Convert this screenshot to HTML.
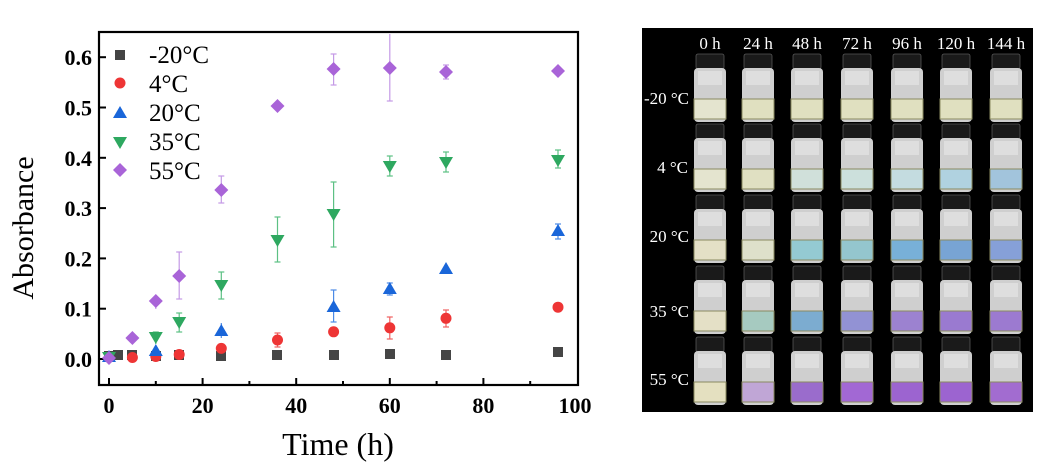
<!DOCTYPE html>
<html><head><meta charset="utf-8"><style>
html,body{margin:0;padding:0;background:#fff;}
svg{display:block;font-family:"Liberation Serif",serif;}
</style></head><body>
<svg width="1063" height="472" viewBox="0 0 1063 472" xmlns="http://www.w3.org/2000/svg">
<rect width="1063" height="472" fill="#fff"/>
<rect x="99" y="32" width="479" height="353" fill="none" stroke="#000" stroke-width="2.2"/>
<g stroke="#000" stroke-width="2">
<line x1="109" y1="385" x2="109" y2="378"/><line x1="202.6" y1="385" x2="202.6" y2="378"/><line x1="296.2" y1="385" x2="296.2" y2="378"/><line x1="389.8" y1="385" x2="389.8" y2="378"/><line x1="483.4" y1="385" x2="483.4" y2="378"/>
<line x1="155.8" y1="385" x2="155.8" y2="381"/><line x1="249.4" y1="385" x2="249.4" y2="381"/><line x1="343" y1="385" x2="343" y2="381"/><line x1="436.6" y1="385" x2="436.6" y2="381"/><line x1="530.2" y1="385" x2="530.2" y2="381"/>
<line x1="99" y1="359" x2="106" y2="359"/><line x1="99" y1="308.7" x2="106" y2="308.7"/><line x1="99" y1="258.4" x2="106" y2="258.4"/><line x1="99" y1="208.1" x2="106" y2="208.1"/><line x1="99" y1="157.8" x2="106" y2="157.8"/><line x1="99" y1="107.5" x2="106" y2="107.5"/><line x1="99" y1="57.2" x2="106" y2="57.2"/>
</g>
<g font-weight="bold" font-size="22" text-anchor="middle">
<text x="109" y="413">0</text><text x="202.6" y="413">20</text><text x="296.2" y="413">40</text><text x="389.8" y="413">60</text><text x="483.4" y="413">80</text><text x="575" y="413">100</text>
</g>
<g font-weight="bold" font-size="22" text-anchor="end">
<text x="92" y="367">0.0</text><text x="92" y="316.7">0.1</text><text x="92" y="266.4">0.2</text><text x="92" y="216.1">0.3</text><text x="92" y="165.8">0.4</text><text x="92" y="115.5">0.5</text><text x="92" y="65.2">0.6</text>
</g>
<text x="338" y="455" font-size="32" text-anchor="middle">Time (h)</text>
<text transform="translate(33,228) rotate(-90)" font-size="30" text-anchor="middle">Absorbance</text>
<rect x="115" y="50" width="10" height="10" fill="#444"/>
<circle cx="120" cy="83" r="5.5" fill="#ee3535"/>
<polygon points="120,106 127,118 113,118" fill="#1a66d9"/>
<polygon points="113,137 127,137 120,149" fill="#2ea860"/>
<polygon points="120,163 127,170 120,177 113,170" fill="#a964d8"/>
<g font-size="25"><text x="149" y="63">-20°C</text><text x="149" y="92">4°C</text><text x="149" y="121">20°C</text><text x="149" y="150">35°C</text><text x="149" y="179">55°C</text></g>
<g stroke="#c49ae6" stroke-width="1.2">
<line x1="155.8" y1="299" x2="155.8" y2="309"/><line x1="152.8" y1="299" x2="158.8" y2="299"/>
<line x1="179.2" y1="252" x2="179.2" y2="299"/><line x1="176.2" y1="252" x2="182.2" y2="252"/><line x1="176.2" y1="299" x2="182.2" y2="299"/>
<line x1="221.3" y1="176" x2="221.3" y2="203"/><line x1="218.3" y1="176" x2="224.3" y2="176"/><line x1="218.3" y1="203" x2="224.3" y2="203"/>
<line x1="333.6" y1="54" x2="333.6" y2="85"/><line x1="330.6" y1="54" x2="336.6" y2="54"/><line x1="330.6" y1="85" x2="336.6" y2="85"/>
<line x1="389.8" y1="34" x2="389.8" y2="101"/><line x1="386.8" y1="101" x2="392.8" y2="101"/>
<line x1="446" y1="65" x2="446" y2="79"/><line x1="443" y1="65" x2="449" y2="65"/><line x1="443" y1="79" x2="449" y2="79"/>
</g>
<g stroke="#5cc084" stroke-width="1.2">
<line x1="155.8" y1="332" x2="155.8" y2="344"/><line x1="152.8" y1="332" x2="158.8" y2="332"/>
<line x1="179.2" y1="313" x2="179.2" y2="332"/><line x1="176.2" y1="313" x2="182.2" y2="313"/><line x1="176.2" y1="332" x2="182.2" y2="332"/>
<line x1="221.3" y1="272" x2="221.3" y2="299"/><line x1="218.3" y1="272" x2="224.3" y2="272"/><line x1="218.3" y1="299" x2="224.3" y2="299"/>
<line x1="277.5" y1="217" x2="277.5" y2="262"/><line x1="274.5" y1="217" x2="280.5" y2="217"/><line x1="274.5" y1="262" x2="280.5" y2="262"/>
<line x1="333.6" y1="182" x2="333.6" y2="247"/><line x1="330.6" y1="182" x2="336.6" y2="182"/><line x1="330.6" y1="247" x2="336.6" y2="247"/>
<line x1="389.8" y1="156" x2="389.8" y2="176"/><line x1="386.8" y1="156" x2="392.8" y2="156"/><line x1="386.8" y1="176" x2="392.8" y2="176"/>
<line x1="446" y1="152" x2="446" y2="172"/><line x1="443" y1="152" x2="449" y2="152"/><line x1="443" y1="172" x2="449" y2="172"/>
<line x1="558" y1="150" x2="558" y2="168"/><line x1="555" y1="150" x2="561" y2="150"/><line x1="555" y1="168" x2="561" y2="168"/>
</g>
<g stroke="#4c8ae6" stroke-width="1.2">
<line x1="221.3" y1="323" x2="221.3" y2="338"/>
<line x1="333.6" y1="290" x2="333.6" y2="322"/><line x1="330.6" y1="290" x2="336.6" y2="290"/><line x1="330.6" y1="322" x2="336.6" y2="322"/>
<line x1="389.8" y1="283" x2="389.8" y2="295"/><line x1="386.8" y1="283" x2="392.8" y2="283"/><line x1="386.8" y1="295" x2="392.8" y2="295"/>
<line x1="446" y1="264" x2="446" y2="274"/><line x1="558" y1="224" x2="558" y2="239"/><line x1="555" y1="224" x2="561" y2="224"/><line x1="555" y1="239" x2="561" y2="239"/>
</g>
<g stroke="#f06060" stroke-width="1.2">
<line x1="277.5" y1="333" x2="277.5" y2="347"/><line x1="274.5" y1="333" x2="280.5" y2="333"/><line x1="274.5" y1="347" x2="280.5" y2="347"/>
<line x1="389.8" y1="317" x2="389.8" y2="339"/><line x1="386.8" y1="317" x2="392.8" y2="317"/><line x1="386.8" y1="339" x2="392.8" y2="339"/>
<line x1="446" y1="310" x2="446" y2="327"/><line x1="443" y1="310" x2="449" y2="310"/><line x1="443" y1="327" x2="449" y2="327"/>
</g>
<g fill="#454545">
<rect x="104" y="351" width="10" height="10"/><rect x="113" y="350" width="10" height="10"/><rect x="127" y="350" width="10" height="10"/><rect x="151" y="351" width="10" height="10"/><rect x="174" y="350" width="10" height="10"/><rect x="216" y="351" width="10" height="10"/><rect x="272" y="350" width="10" height="10"/><rect x="329" y="350" width="10" height="10"/><rect x="385" y="349" width="10" height="10"/><rect x="441" y="350" width="10" height="10"/><rect x="553" y="347" width="10" height="10"/>
</g>
<g fill="#ee3535">
<circle cx="132.4" cy="357.5" r="5.5"/><circle cx="155.8" cy="356.5" r="5.5"/><circle cx="179.2" cy="354.5" r="5.5"/><circle cx="221.3" cy="348.4" r="5.5"/><circle cx="277.5" cy="340" r="5.5"/><circle cx="333.6" cy="331.8" r="5.5"/><circle cx="389.8" cy="327.8" r="5.5"/><circle cx="446" cy="318.3" r="5.5"/><circle cx="558" cy="307.2" r="5.5"/>
</g>
<g fill="#1a66d9">
<polygon points="109,350 116,362 102,362"/><polygon points="155.8,344 162.8,356 148.8,356"/><polygon points="221.3,324 228.3,336 214.3,336"/><polygon points="333.6,300 340.6,312 326.6,312"/><polygon points="389.8,282 396.8,294 382.8,294"/><polygon points="446,262 453,274 439,274"/><polygon points="558,224 565,236 551,236"/>
</g>
<g fill="#2ea860">
<polygon points="102,352 116,352 109,364"/><polygon points="148.8,332 162.8,332 155.8,344"/><polygon points="172.2,317 186.2,317 179.2,329"/><polygon points="214.3,280 228.3,280 221.3,292"/><polygon points="270.5,235 284.5,235 277.5,247"/><polygon points="326.6,209 340.6,209 333.6,221"/><polygon points="382.8,161 396.8,161 389.8,173"/><polygon points="439,157 453,157 446,169"/><polygon points="551,155 565,155 558,167"/>
</g>
<g fill="#a964d8">
<polygon points="109,351 116,358 109,365 102,358"/><polygon points="132.4,331 139.4,338 132.4,345 125.4,338"/><polygon points="155.8,294 162.8,301 155.8,308 148.8,301"/><polygon points="179.2,269 186.2,276 179.2,283 172.2,276"/><polygon points="221.3,183 228.3,190 221.3,197 214.3,190"/><polygon points="277.5,99 284.5,106 277.5,113 270.5,106"/><polygon points="333.6,62 340.6,69 333.6,76 326.6,69"/><polygon points="389.8,61 396.8,68 389.8,75 382.8,68"/><polygon points="446,65 453,72 446,79 439,72"/><polygon points="558,64 565,71 558,78 551,71"/>
</g>
<rect x="642" y="28" width="391" height="384" fill="#000"/>
<g fill="#fff" font-size="17" text-anchor="middle">
<text x="710" y="49">0 h</text><text x="758" y="49">24 h</text><text x="807" y="49">48 h</text><text x="857" y="49">72 h</text><text x="907" y="49">96 h</text><text x="956" y="49">120 h</text><text x="1006" y="49">144 h</text>
</g>
<g fill="#fff" font-size="17" text-anchor="end">
<text x="689" y="104">-20 °C</text><text x="688" y="173">4 °C</text><text x="689" y="242">20 °C</text><text x="689" y="317">35 °C</text><text x="689" y="385">55 °C</text>
</g>
<defs>
<g id="v"><rect x="-14" y="0" width="28" height="15" rx="2" fill="#1a1a1a" stroke="#555" stroke-width="0.8"/><rect x="-16" y="14" width="32" height="54" rx="4" fill="#cfcfcf"/><rect x="-12" y="17" width="24" height="14" fill="#dedede"/></g>
</defs>
<g>
<use href="#v" x="710" y="54"/><use href="#v" x="758" y="54"/><use href="#v" x="807" y="54"/><use href="#v" x="857" y="54"/><use href="#v" x="907" y="54"/><use href="#v" x="956" y="54"/><use href="#v" x="1006" y="54"/>
<use href="#v" x="710" y="124"/><use href="#v" x="758" y="124"/><use href="#v" x="807" y="124"/><use href="#v" x="857" y="124"/><use href="#v" x="907" y="124"/><use href="#v" x="956" y="124"/><use href="#v" x="1006" y="124"/>
<use href="#v" x="710" y="195"/><use href="#v" x="758" y="195"/><use href="#v" x="807" y="195"/><use href="#v" x="857" y="195"/><use href="#v" x="907" y="195"/><use href="#v" x="956" y="195"/><use href="#v" x="1006" y="195"/>
<use href="#v" x="710" y="266"/><use href="#v" x="758" y="266"/><use href="#v" x="807" y="266"/><use href="#v" x="857" y="266"/><use href="#v" x="907" y="266"/><use href="#v" x="956" y="266"/><use href="#v" x="1006" y="266"/>
<use href="#v" x="710" y="337"/><use href="#v" x="758" y="337"/><use href="#v" x="807" y="337"/><use href="#v" x="857" y="337"/><use href="#v" x="907" y="337"/><use href="#v" x="956" y="337"/><use href="#v" x="1006" y="337"/>
</g>
<g stroke="#8a8a60" stroke-width="1">
<rect x="694" y="99" width="32" height="20" fill="#e4e4cf"/><rect x="742" y="99" width="32" height="20" fill="#e0e0c0"/><rect x="791" y="99" width="32" height="20" fill="#e0e0c0"/><rect x="841" y="99" width="32" height="20" fill="#e0e0c0"/><rect x="891" y="99" width="32" height="20" fill="#e0e0c0"/><rect x="940" y="99" width="32" height="20" fill="#e0e0c0"/><rect x="990" y="99" width="32" height="20" fill="#e0e0c0"/>
<rect x="694" y="169" width="32" height="20" fill="#e4e4cf"/><rect x="742" y="169" width="32" height="20" fill="#e0e0c2"/><rect x="791" y="169" width="32" height="20" fill="#d0e0da"/><rect x="841" y="169" width="32" height="20" fill="#cce0dc"/><rect x="891" y="169" width="32" height="20" fill="#c4dce0"/><rect x="940" y="169" width="32" height="20" fill="#b0d2e0"/><rect x="990" y="169" width="32" height="20" fill="#a2c4dc"/>
<rect x="694" y="240" width="32" height="20" fill="#e4e0c6"/><rect x="742" y="240" width="32" height="20" fill="#dee0ca"/><rect x="791" y="240" width="32" height="20" fill="#94cad2"/><rect x="841" y="240" width="32" height="20" fill="#94c6ce"/><rect x="891" y="240" width="32" height="20" fill="#78b0d8"/><rect x="940" y="240" width="32" height="20" fill="#78a4d4"/><rect x="990" y="240" width="32" height="20" fill="#86a0d8"/>
<rect x="694" y="311" width="32" height="20" fill="#e4e0c6"/><rect x="742" y="311" width="32" height="20" fill="#a6cac0"/><rect x="791" y="311" width="32" height="20" fill="#7cacd0"/><rect x="841" y="311" width="32" height="20" fill="#9292d4"/><rect x="891" y="311" width="32" height="20" fill="#9c82d0"/><rect x="940" y="311" width="32" height="20" fill="#9a7ad0"/><rect x="990" y="311" width="32" height="20" fill="#9c7ad0"/>
<rect x="694" y="382" width="32" height="20" fill="#e4e0c0"/><rect x="742" y="382" width="32" height="20" fill="#c0a6d6"/><rect x="791" y="382" width="32" height="20" fill="#9a6ccc"/><rect x="841" y="382" width="32" height="20" fill="#a268d4"/><rect x="891" y="382" width="32" height="20" fill="#9c64d0"/><rect x="940" y="382" width="32" height="20" fill="#9c64d0"/><rect x="990" y="382" width="32" height="20" fill="#a26cd0"/>
</g>
</svg>
</body></html>
